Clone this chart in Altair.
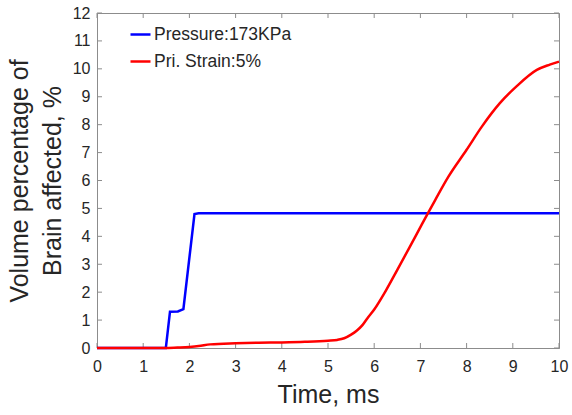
import altair as alt
import pandas as pd

# Pressure series (Volume % of brain affected)
pressure_t = [0, 1.49, 1.58, 1.75, 1.87, 2.11, 2.2, 10]
pressure_v = [0, 0, 1.30, 1.31, 1.39, 4.80, 4.83, 4.83]

# Principal strain series
strain_t = [0, 1.5, 1.8, 2.0, 2.2, 2.45, 3.0, 3.5, 4.0, 4.5, 5.0, 5.2, 5.35, 5.5, 5.62,
            5.75, 5.85, 6.0, 6.25, 6.5, 6.75, 7.0, 7.17, 7.32, 7.6, 8.0, 8.33, 8.72,
            9.08, 9.52, 9.8, 10]
strain_v = [0, 0, 0.02, 0.04, 0.07, 0.13, 0.17, 0.19, 0.2, 0.22, 0.26, 0.29, 0.35, 0.48,
            0.62, 0.83, 1.06, 1.38, 2.05, 2.8, 3.56, 4.33, 4.85, 5.3, 6.12, 7.1, 7.93,
            8.77, 9.37, 9.96, 10.15, 10.26]

series_names = ["Pressure:173KPa", "Pri. Strain:5%"]
series_colors = ["#0000FF", "#FF0000"]

x_ticks = list(range(0, 11))
y_ticks = list(range(0, 13))

W, H = 462, 335
axis_gray = "#8c8c8c"
text_col = "#262626"

df_p = pd.DataFrame({"t": pressure_t, "v": pressure_v, "series": series_names[0]})
df_s = pd.DataFrame({"t": strain_t, "v": strain_v, "series": series_names[1]})
df_xt = pd.DataFrame({"t": x_ticks})
df_yt = pd.DataFrame({"v": y_ticks})

xscale = alt.Scale(domain=[0, 10], nice=False, zero=False)
yscale = alt.Scale(domain=[0, 12], nice=False, zero=False)
cscale = alt.Scale(domain=series_names, range=series_colors)

x_axis = alt.Axis(values=x_ticks, format="d", labelOverlap=False, labelFlush=False)
y_axis = alt.Axis(values=y_ticks, format="d", labelOverlap=False, labelFlush=False)
x_enc = alt.X("t:Q", scale=xscale, title="Time, ms", axis=x_axis)
y_enc = alt.Y("v:Q", scale=yscale, title=["Volume percentage of", "Brain affected, %"],
              axis=y_axis)

legend = alt.Legend(title=None, orient="none", legendX=32, legendY=10,
                    symbolType="stroke", symbolSize=400, symbolStrokeWidth=2.5,
                    labelFontSize=17.5, labelColor=text_col, labelFont="Liberation Sans",
                    labelOffset=2, rowPadding=7, padding=0)

line_p = alt.Chart(df_p).mark_line(strokeWidth=2.5).encode(
    x=x_enc, y=y_enc,
    color=alt.Color("series:N", scale=cscale, legend=legend),
)
line_s = alt.Chart(df_s).mark_line(strokeWidth=2.5, interpolate="monotone").encode(
    x=x_enc, y=y_enc,
    color=alt.Color("series:N", scale=cscale, legend=legend),
)

tick_style = dict(color=axis_gray, strokeWidth=1)
xt_bottom = alt.Chart(df_xt).mark_rule(**tick_style).encode(
    x=x_enc, y=alt.value(H), y2=alt.value(H - 5))
xt_top = alt.Chart(df_xt).mark_rule(**tick_style).encode(
    x=x_enc, y=alt.value(0), y2=alt.value(5))
yt_left = alt.Chart(df_yt).mark_rule(**tick_style).encode(
    y=y_enc, x=alt.value(0), x2=alt.value(5))
yt_right = alt.Chart(df_yt).mark_rule(**tick_style).encode(
    y=y_enc, x=alt.value(W), x2=alt.value(W - 5))

chart = alt.layer(xt_bottom, xt_top, yt_left, yt_right, line_p, line_s).properties(
    width=W, height=H,
    padding={"left": 97, "top": 13, "right": 13, "bottom": 67},
    autosize="none",
    background="white",
).configure_view(
    stroke=axis_gray, strokeWidth=1
).configure_axis(
    grid=False, ticks=False, domainColor=axis_gray, domainWidth=1,
    labelFont="Liberation Sans", labelFontSize=16, labelColor=text_col,
    titleFont="Liberation Sans", titleFontSize=25, titleColor=text_col,
    titleFontWeight="normal",
).configure_axisX(
    labelPadding=10, titlePadding=8
).configure_axisY(
    labelPadding=7, titlePadding=7, titleLineHeight=33
)

chart.save("out.html", embed_options={"renderer": "svg", "actions": False})
